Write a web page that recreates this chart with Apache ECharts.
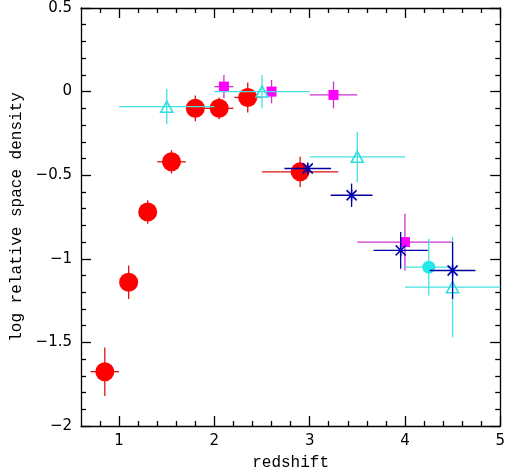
<!DOCTYPE html>
<html><head><meta charset="utf-8">
<script src="https://cdn.jsdelivr.net/npm/echarts@6/dist/echarts.min.js"></script>
<style>html,body{margin:0;padding:0;background:#fff}#c{width:508px;height:476px}</style>
</head><body><div id="c"></div>
<script>
// ---- tick values ----
const xMajor = [1, 2, 3, 4, 5];
const xMinor = [0.8, 1.2, 1.4, 1.6, 1.8, 2.2, 2.4, 2.6, 2.8, 3.2, 3.4, 3.6, 3.8, 4.2, 4.4, 4.6, 4.8];
const yTicks = [-2, -1.5, -1, -0.5, 0, 0.5];

// ---- red filled circles ----
const redX    = [0.85, 1.10, 1.30, 1.55, 1.80, 2.05, 2.35, 2.90];
const redY    = [-1.675, -1.14, -0.72, -0.42, -0.10, -0.10, -0.035, -0.48];
const redXErr = [0.15, 0.05, 0.05, 0.15, 0.05, 0.15, 0.14, 0.40];
const redYErr = [0.145, 0.10, 0.07, 0.07, 0.077, 0.065, 0.09, 0.09];

// ---- magenta filled squares ----
const magX    = [2.10, 2.60, 3.25, 4.00];
const magY    = [0.03, 0.00, -0.02, -0.90];
const magXErr = [0.10, 0.05, 0.25, 0.50];
const magYErr = [0.07, 0.07, 0.08, 0.17];

// ---- cyan open triangles ----
const triX    = [1.50, 2.50, 3.50, 4.50];
const triY    = [-0.09, 0.00, -0.39, -1.17];
const triXErr = [0.50, 0.50, 0.50, 0.50];
const triYErr = [0.105, 0.10, 0.15, 0.30];

// ---- cyan filled circle ----
const cycX    = [4.25];
const cycY    = [-1.05];
const cycXErr = [0.25];
const cycYErr = [0.17];

// ---- blue asterisks ----
const starX    = [2.98, 3.44, 3.955, 4.50];
const starY    = [-0.46, -0.62, -0.95, -1.07];
const starXErr = [0.245, 0.22, 0.285, 0.24];
const starYErr = [0.03, 0.07, 0.11, 0.17];

function errSeries(xs, ys, xe, ye, color, z) {
  return {
    type: 'custom', z: z, silent: true, clip: true,
    data: xs.map((x, i) => [x, ys[i], xe[i], ye[i]]),
    encode: { x: 0, y: 1 },
    renderItem: function (params, api) {
      const x = api.value(0), y = api.value(1), dx = api.value(2), dy = api.value(3);
      const l = api.coord([x - dx, y]), r = api.coord([x + dx, y]);
      const t = api.coord([x, y + dy]), b = api.coord([x, y - dy]);
      return { type: 'group', children: [
        { type: 'line', shape: { x1: l[0], y1: l[1], x2: r[0], y2: r[1] }, style: { stroke: color, lineWidth: 1.3 } },
        { type: 'line', shape: { x1: t[0], y1: t[1], x2: b[0], y2: b[1] }, style: { stroke: color, lineWidth: 1.3 } }
      ]};
    }
  };
}
function pts(xs, ys) { return xs.map((x, i) => [x, ys[i]]); }

const lineSt = { color: '#000', width: 1.3 };
const xBase = { type: 'value', min: 0.6, max: 5, splitLine: { show: false } };
const yBase = { type: 'value', min: -2, max: 0.5, interval: 0.5, splitLine: { show: false } };
const labelFont = { fontFamily: 'DejaVu Sans', fontSize: 15, color: '#000' };
const nameFont = { fontFamily: 'Liberation Mono', fontSize: 16, color: '#000' };

const option = {
  animation: false,
  backgroundColor: '#fff',
  grid: { left: 81, right: 7, top: 8, bottom: 48 },
  xAxis: [
    Object.assign({}, xBase, { position: 'bottom',
      axisLine: { onZero: false, lineStyle: lineSt },
      axisTick: { inside: true, length: 10, customValues: xMajor, lineStyle: lineSt },
      axisLabel: Object.assign({ customValues: xMajor, margin: 8 }, labelFont),
      name: 'redshift', nameLocation: 'middle', nameGap: 29, nameTextStyle: nameFont }),
    Object.assign({}, xBase, { position: 'bottom',
      axisLine: { show: false, onZero: false },
      axisTick: { inside: true, length: 5, customValues: xMinor, lineStyle: lineSt },
      axisLabel: { show: false } }),
    Object.assign({}, xBase, { position: 'top',
      axisLine: { onZero: false, lineStyle: lineSt },
      axisTick: { inside: true, length: 10, customValues: xMajor, lineStyle: lineSt },
      axisLabel: { show: false } }),
    Object.assign({}, xBase, { position: 'top',
      axisLine: { show: false, onZero: false },
      axisTick: { inside: true, length: 5, customValues: xMinor, lineStyle: lineSt },
      axisLabel: { show: false } })
  ],
  yAxis: [
    Object.assign({}, yBase, { position: 'left',
      axisLine: { onZero: false, lineStyle: lineSt },
      axisTick: { inside: true, length: 10, customValues: yTicks, lineStyle: lineSt },
      minorTick: { show: true, splitNumber: 5, length: 5, lineStyle: lineSt },
      axisLabel: Object.assign({ customValues: yTicks, margin: 9,
        formatter: v => String(v).replace('-', '\u2212') }, labelFont),
      name: 'log relative space density', nameLocation: 'middle', nameGap: 56, nameRotate: 90,
      nameTextStyle: nameFont }),
    Object.assign({}, yBase, { position: 'right',
      axisLine: { onZero: false, lineStyle: lineSt },
      axisTick: { inside: true, length: 10, lineStyle: lineSt },
      minorTick: { show: true, splitNumber: 5, length: 5, lineStyle: lineSt },
      axisLabel: { show: false } })
  ],
  series: [
    errSeries(redX, redY, redXErr, redYErr, '#dd1111', 2),
    { type: 'scatter', z: 3, symbol: 'circle', symbolSize: 19, silent: true,
      itemStyle: { color: '#ff0000', opacity: 1 }, data: pts(redX, redY) },
    errSeries(magX, magY, magXErr, magYErr, '#cc33cc', 4),
    { type: 'scatter', z: 5, symbol: 'rect', symbolSize: 10, silent: true,
      itemStyle: { color: '#ff00ff', opacity: 1 }, data: pts(magX, magY) },
    errSeries(triX, triY, triXErr, triYErr, '#44e0e0', 6),
    { type: 'scatter', z: 7, symbol: 'triangle', symbolSize: [12, 11], silent: true,
      itemStyle: { color: 'rgba(255,255,255,0)', borderColor: '#33dddd', borderWidth: 1.6, opacity: 1 },
      data: pts(triX, triY) },
    errSeries(cycX, cycY, cycXErr, cycYErr, '#44e0e0', 8),
    { type: 'scatter', z: 9, symbol: 'circle', symbolSize: 13, silent: true,
      itemStyle: { color: '#22e8e8', opacity: 1 }, data: pts(cycX, cycY) },
    errSeries(starX, starY, starXErr, starYErr, '#0000a0', 10),
    { type: 'scatter', z: 11, symbol: 'path://M0,0L10,10M10,0L0,10M5,-1L5,11', symbolSize: [10, 12], silent: true,
      itemStyle: { color: 'rgba(0,0,0,0)', borderColor: '#0000b0', borderWidth: 1.6, opacity: 1 },
      data: pts(starX, starY) }
  ]
};
const chart = echarts.init(document.getElementById('c'), null, { renderer: 'canvas' });
chart.setOption(option);
</script>
</body></html>
